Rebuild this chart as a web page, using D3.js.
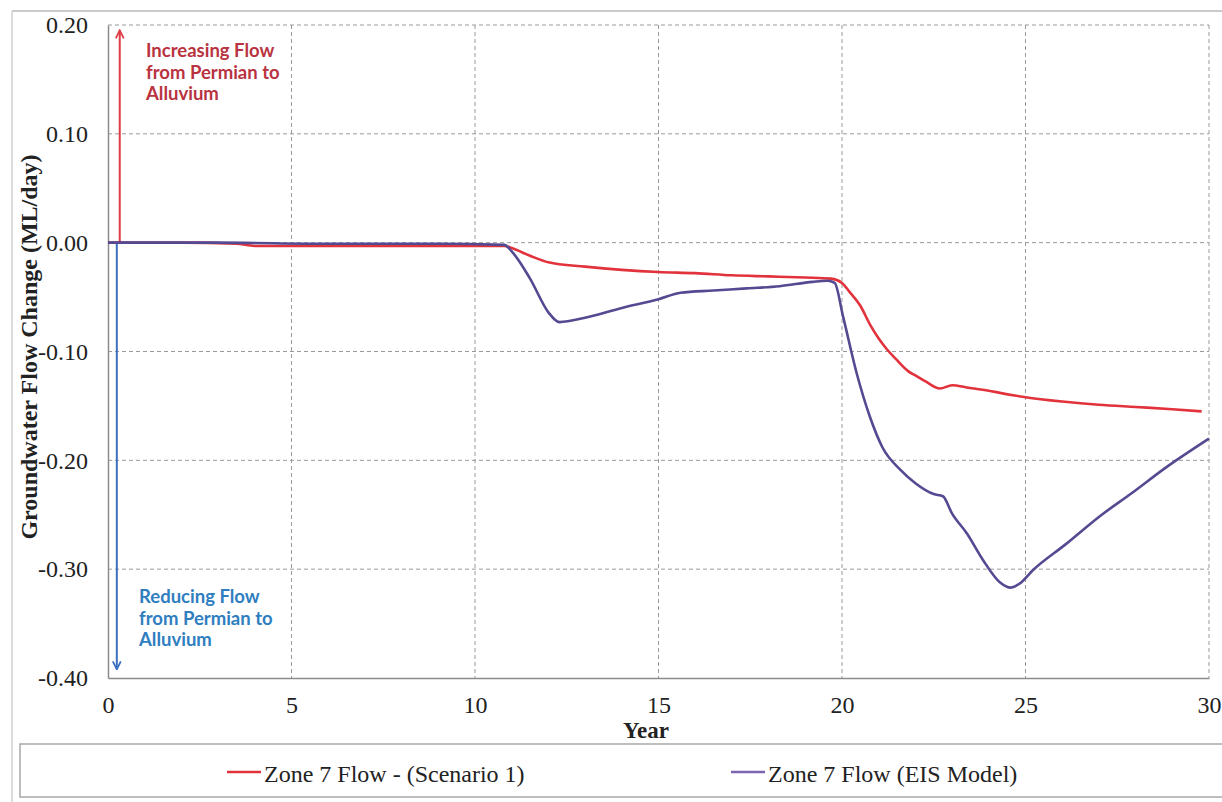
<!DOCTYPE html>
<html><head><meta charset="utf-8">
<script src="https://cdn.jsdelivr.net/npm/d3@7"></script>
<style>body{margin:0;background:#fff}svg{display:block}</style>
</head><body>
<svg id="chart" width="1222" height="802"></svg>
<script>
const xTicks = [0,5,10,15,20,25,30];
const yTicks = [0.20,0.10,0.00,-0.10,-0.20,-0.30,-0.40];
const yTickLabels = ["0.20","0.10","0.00","-0.10","-0.20","-0.30","-0.40"];
const seriesNames = ["Zone 7 Flow - (Scenario 1)", "Zone 7 Flow (EIS Model)"];

const scenarioYears = [0,2,3.5,4,6,8,10,10.8,11,11.5,12,13,14,15,16,17,18,19,19.7,20,20.2,20.5,20.76,21,21.2,21.5,21.8,22,22.3,22.67,23.0,23.4,24,24.3,25,26,27,28,29,29.8];
const scenarioVals  = [0,0,-0.001,-0.003,-0.003,-0.003,-0.003,-0.003,-0.005,-0.012,-0.018,-0.022,-0.025,-0.027,-0.028,-0.030,-0.031,-0.032,-0.033,-0.037,-0.045,-0.058,-0.075,-0.088,-0.097,-0.108,-0.118,-0.122,-0.128,-0.134,-0.131,-0.133,-0.136,-0.138,-0.142,-0.146,-0.149,-0.151,-0.153,-0.155];

const eisYears = [0,3,6,9,10.8,11,11.5,12,12.3,13,14,15,15.6,16.5,17.4,18.3,19.2,19.6,19.8,20.03,20.4,20.76,21.1,21.6,22.0,22.5,22.75,23.0,23.4,23.85,24.3,24.6,24.85,25.2,26.1,27.0,27.9,28.85,30];
const eisVals  = [0,0,-0.001,-0.001,-0.002,-0.008,-0.033,-0.064,-0.073,-0.069,-0.060,-0.052,-0.046,-0.044,-0.042,-0.040,-0.036,-0.035,-0.037,-0.068,-0.120,-0.160,-0.188,-0.209,-0.221,-0.231,-0.233,-0.249,-0.267,-0.292,-0.312,-0.317,-0.313,-0.301,-0.277,-0.252,-0.230,-0.206,-0.180];

const svg = d3.select("#chart");
const x = d3.scaleLinear().domain([0,30]).range([108,1209]);
const y = d3.scaleLinear().domain([-0.4,0.2]).range([678,25]);
const serif = "'Liberation Serif', 'DejaVu Serif', serif";

// outer frame
svg.append("line").attr("x1",12).attr("x2",1222).attr("y1",11).attr("y2",11).attr("stroke","#b8b8b8").attr("stroke-width",1.5);
svg.append("line").attr("x1",12).attr("x2",12).attr("y1",11).attr("y2",802).attr("stroke","#d0d0d0").attr("stroke-width",1.5);

// grid
const grid = svg.append("g").attr("stroke","#9a9a9a").attr("stroke-width",1).attr("stroke-dasharray","4,3");
grid.selectAll(".gx").data(xTicks.filter(d=>d>0)).join("line")
  .attr("x1",d=>x(d)).attr("x2",d=>x(d)).attr("y1",y(0.2)).attr("y2",y(-0.4));
grid.selectAll(".gy").data(yTicks.filter(d=>d>-0.4)).join("line")
  .attr("x1",x(0)).attr("x2",x(30)).attr("y1",d=>y(d)).attr("y2",d=>y(d));

// axes
const xAxis = d3.axisBottom(x).tickValues(xTicks).tickSize(0).tickPadding(18).tickFormat(d3.format("d"));
const gx = svg.append("g").attr("transform",`translate(0,${y(-0.4)})`).call(xAxis);
gx.select(".domain").attr("stroke","#8c8c8c").attr("stroke-width",1.5);
gx.selectAll("text").attr("font-family",serif).attr("font-size",24).attr("fill","#222");

const yAxis = d3.axisLeft(y).tickValues(yTicks).tickSize(0).tickPadding(20).tickFormat((d,i)=>yTickLabels[i]);
const gy = svg.append("g").attr("transform",`translate(${x(0)},0)`).call(yAxis);
gy.select(".domain").attr("stroke","#8c8c8c").attr("stroke-width",1.5);
gy.selectAll("text").attr("font-family",serif).attr("font-size",24).attr("fill","#222");

// axis titles
svg.append("text").attr("x",646).attr("y",738).attr("text-anchor","middle")
  .attr("font-family",serif).attr("font-weight","bold").attr("font-size",23).attr("fill","#222").text("Year");
svg.append("text").attr("transform",`translate(37,347) rotate(-90)`).attr("text-anchor","middle")
  .attr("font-family",serif).attr("font-weight","bold").attr("font-size",24).attr("fill","#222")
  .text("Groundwater Flow Change (ML/day)");

// arrows
const defs = svg.append("defs");
function marker(id,color){
  defs.append("marker").attr("id",id).attr("viewBox","0 0 10 10").attr("refX",9).attr("refY",5)
    .attr("markerWidth",10).attr("markerHeight",10).attr("markerUnits","userSpaceOnUse").attr("orient","auto")
    .append("path").attr("d","M1,1 L9,5 L1,9").attr("fill","none").attr("stroke",color).attr("stroke-width",1.8);
}
marker("ar","#e03a44"); marker("ab","#3b6fbf");
svg.append("line").attr("x1",x(0.32)).attr("x2",x(0.32)).attr("y1",y(0)).attr("y2",y(0.195))
  .attr("stroke","#e03a44").attr("stroke-width",2).attr("marker-end","url(#ar)");
svg.append("line").attr("x1",x(0.24)).attr("x2",x(0.24)).attr("y1",y(0)).attr("y2",y(-0.392))
  .attr("stroke","#3b6fbf").attr("stroke-width",2).attr("marker-end","url(#ab)");

// annotations
const sans = "Lato, 'Open Sans', sans-serif";
const up = svg.append("text").attr("font-family",sans).attr("font-weight","bold").attr("font-size",18.5).attr("fill","#b8333f");
["Increasing Flow","from Permian to","Alluvium"].forEach((t,i)=>up.append("tspan").attr("x",146).attr("y",57+i*21.5).text(t));
const dn = svg.append("text").attr("font-family",sans).attr("font-weight","bold").attr("font-size",18.5).attr("fill","#2f7ec0");
["Reducing Flow","from Permian to","Alluvium"].forEach((t,i)=>dn.append("tspan").attr("x",139).attr("y",603+i*21.5).text(t));

// lines
const line = d3.line().x(d=>x(d[0])).y(d=>y(d[1])).curve(d3.curveMonotoneX);
const eisData = eisYears.map((d,i)=>[d,eisVals[i]]);
const scenData = scenarioYears.map((d,i)=>[d,scenarioVals[i]]);
svg.append("path").datum(scenData).attr("d",line).attr("fill","none").attr("stroke","#e2333d").attr("stroke-width",2.6);
svg.append("path").datum(eisData).attr("d",line).attr("fill","none").attr("stroke","#544a92").attr("stroke-width",2.6);

// legend
svg.append("rect").attr("x",20).attr("y",744).attr("width",1210).attr("height",53)
  .attr("fill","#fff").attr("stroke","#a8a8a8").attr("stroke-width",1.5);
const legColors = ["#e2333d","#7b65b0"];
const legX = [227,731];
seriesNames.forEach((n,i)=>{
  svg.append("line").attr("x1",legX[i]).attr("x2",legX[i]+34).attr("y1",772).attr("y2",772)
    .attr("stroke",legColors[i]).attr("stroke-width",2.6);
  svg.append("text").attr("x",legX[i]+37).attr("y",782).attr("font-family",serif).attr("font-size",24)
    .attr("fill","#222").text(n);
});
</script>
</body></html>
